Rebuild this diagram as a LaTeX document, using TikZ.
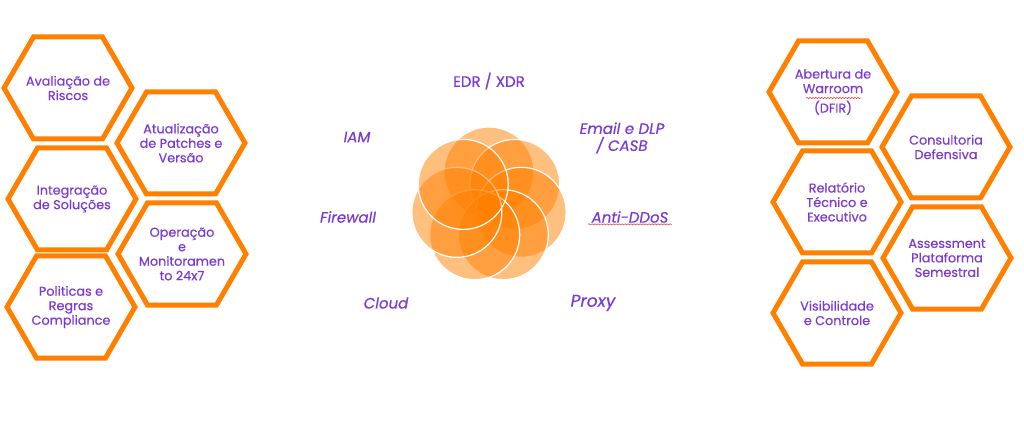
\documentclass[tikz,border=0pt]{standalone}
\usepackage{fontspec}
\setmainfont{Poppins}[FakeBold=0.5]
\usetikzlibrary{decorations.pathmorphing}
\definecolor{laranja}{RGB}{255,128,0}
\definecolor{roxo}{RGB}{122,58,212}
\definecolor{verm}{RGB}{225,40,40}
\tikzset{
	hexa/.style={draw=laranja, line width=5pt, line join=miter},
	texto/.style={align=center, text=roxo, inner sep=1pt, font=\fontsize{12.8}{14.5}\selectfont},
	rotulo/.style={text=roxo, align=center, font=\fontsize{15}{17}\selectfont\itshape},
	petala/.style={fill=laranja, fill opacity=.5, draw=white, line width=1.2pt},
	squig/.style={draw=verm, line width=.5pt, decorate, decoration={snake, amplitude=.6pt, segment length=3pt}}
}
\begin{document}
\begin{tikzpicture}[x=1pt, y=-1pt, line join=round]
		\useasboundingbox (0,0) rectangle (1024,435);
		% hexagonos da esquerda e da direita
		\foreach \n/\x/\y/\t in {
			ava/68/88/{Avaliação de\\Riscos},
			atu/181/143/{Atualização\\de Patches e\\Versão},
			int/72/199/{Integração\\de Soluções},
			ope/182/254/{Operação\\e\\Monitoramen\\to 24x7},
			pol/71/307/{Politicas e\\Regras\\Compliance},
			abe/833/92/{Abertura de\\Warroom\\[5pt](DFIR)},
			con/946/147/{Consultoria\\Defensiva},
			rel/837/202/{Relatório\\Técnico e\\Executivo},
			ass/947/258/{Assessment\\Plataforma\\Semestral},
			vis/837/313/{Visibilidade\\e Controle}}
		{
			\draw[hexa] (\x,\y) +(-64,0) -- +(-34.5,-51) -- +(34.5,-51) -- +(64,0) -- +(34.5,51) -- +(-34.5,51) -- cycle;
			\node[texto] (\n) at (\x,\y) {\t};
		}
		% flor central
		\coordinate (flor) at (489,205);
		\foreach \k in {0,...,6}
		\path[petala] (flor) ++(-90+\k*51.43:33) circle[radius=45pt];
		% rotulos
		\node[rotulo, font=\fontsize{15}{17}\selectfont] (edr) at (489,81) {EDR / XDR};
		\node[rotulo] (iam) at (357,137) {IAM};
		\node[rotulo] (email) at (622,138) {Email e DLP\\/ CASB};
		\node[rotulo] (fire) at (348,217) {Firewall};
		\node[rotulo] (anti) at (630,217) {Anti-DDoS};
		\node[rotulo] (cloud) at (386,303) {Cloud};
		\node[rotulo, font=\fontsize{17}{19}\selectfont\itshape] (proxy) at (593,303) {Proxy};
		\draw[squig] ([yshift=2pt]anti.south west) -- ([yshift=2pt]anti.south east);
		\draw[squig] ([shift={(-27,6)}]abe.center) -- ++(55,0);
\end{tikzpicture}
\end{document}
